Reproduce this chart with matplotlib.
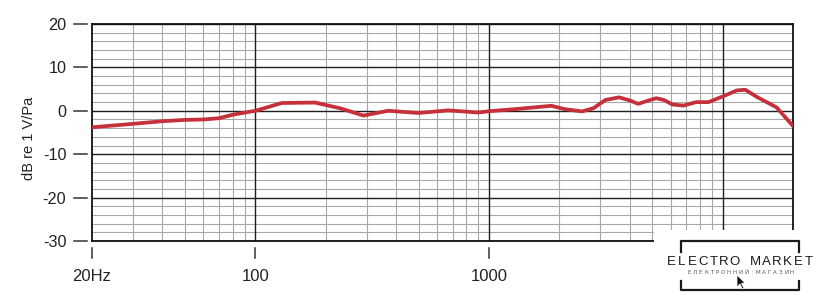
import matplotlib
matplotlib.use("Agg")
import matplotlib.pyplot as plt
from matplotlib.transforms import blended_transform_factory
from matplotlib.patches import Rectangle, Polygon
from matplotlib.lines import Line2D

# ---- data ----
freq_hz = [20, 30, 40, 50, 60, 70, 80, 100, 130, 180, 230, 290, 370, 500, 670,
           900, 1000, 1300, 1850, 2100, 2500, 2800, 3150, 3600, 4000, 4350,
           4900, 5200, 5600, 6100, 6800, 7700, 8700, 10000, 11500, 12500,
           14000, 17000, 20000]
sens_db = [-3.8, -3.0, -2.4, -2.1, -2.0, -1.7, -0.9, 0.0, 1.8, 1.9, 0.6, -1.1,
           0.0, -0.5, 0.1, -0.4, -0.1, 0.4, 1.15, 0.4, -0.15, 0.6, 2.5, 3.1,
           2.4, 1.6, 2.5, 2.9, 2.5, 1.45, 1.2, 2.0, 2.0, 3.3, 4.7, 4.85, 3.2,
           0.8, -3.5]

x_tick_values = [20, 100, 1000]
x_tick_labels = ["20Hz", "100", "1000"]
y_tick_values = [20, 10, 0, -10, -20, -30]
decade_lines = [100, 1000, 10000]
minor_freqs = ([m * 10 for m in range(3, 10)] +
               [m * 100 for m in range(2, 10)] +
               [m * 1000 for m in range(2, 10)])
db_grid = list(range(-30, 21, 2))

W, H = 840, 304
def fp(x, y):
    return (x / W, 1 - y / H)

fig = plt.figure(figsize=(W / 100, H / 100), dpi=100)
fig.patch.set_facecolor("white")
ax = fig.add_axes([92 / W, 1 - 241 / H, 701 / W, 217 / H])
ax.set_xscale("log")
ax.set_xlim(20, 20000)
ax.set_ylim(-30, 20)

# grid
for y in db_grid:
    if y % 10 == 0:
        ax.axhline(y, color="#1e1e1e", lw=1.0, zorder=1)
    else:
        ax.axhline(y, color="#a8a8a8", lw=0.8, zorder=0.5)
for f in minor_freqs:
    ax.axvline(f, color="#a8a8a8", lw=0.8, zorder=0.5)
for f in decade_lines:
    ax.axvline(f, color="#1e1e1e", lw=1.0, zorder=1)

for s in ax.spines.values():
    s.set_linewidth(1.3)
    s.set_color("#111111")

ax.plot(freq_hz, sens_db, color="#c5303a", lw=2.7, zorder=3,
        solid_capstyle="round", solid_joinstyle="round")

ax.set_xticks(x_tick_values)
ax.set_xticklabels(x_tick_labels)
ax.xaxis.set_minor_locator(matplotlib.ticker.NullLocator())
ax.set_yticks(y_tick_values)
ax.set_yticklabels([str(v) for v in y_tick_values])
ax.tick_params(axis="both", length=0)
ax.tick_params(axis="y", pad=18.5, labelsize=11.7, labelcolor="#222222")
ax.tick_params(axis="x", pad=20.5, labelsize=12, labelcolor="#222222")
for lab in ax.get_xticklabels() + ax.get_yticklabels():
    lab.set_fontfamily("Liberation Sans")

# detached tick marks
ty = blended_transform_factory(ax.transAxes, ax.transData)
for v in y_tick_values:
    ax.add_line(Line2D([-18 / 701, -5 / 701], [v, v], transform=ty,
                       color="#333333", lw=1.1, clip_on=False))
tx = blended_transform_factory(ax.transData, ax.transAxes)
for v in x_tick_values:
    ax.add_line(Line2D([v, v], [-7 / 217, -17 / 217], transform=tx,
                       color="#333333", lw=1.1, clip_on=False))

fig.text(*fp(29, 138), "dB re 1 V/Pa", rotation=90, ha="center", va="center",
         fontsize=10.5, color="#222222", family="Liberation Sans")

# watermark box covering bottom-right
fig.patches.append(Rectangle(fp(654, 304), (W - 654) / W, (304 - 229.5) / H,
                             transform=fig.transFigure, facecolor="white",
                             edgecolor="none", zorder=5))
bk = dict(transform=fig.transFigure, color="#1a1a1a", lw=1.6, zorder=6)
for xs, ys in [([681, 681, 799, 799], [252, 241, 241, 252]),
               ([681, 681, 799, 799], [281, 290, 290, 281])]:
    pts = [fp(x, y) for x, y in zip(xs, ys)]
    fig.lines.append(Line2D([p[0] for p in pts], [p[1] for p in pts], **bk))

title = "ELECTRO MARKET"
x0, x1 = 671, 809
for i, ch in enumerate(title):
    x = x0 + (x1 - x0) * i / (len(title) - 1)
    fig.text(*fp(x, 262), ch, ha="center", va="center", fontsize=9.5,
             color="#1a1a1a", family="Liberation Sans", zorder=7)
sub = "ЕЛЕКТРОННИЙ·МАГАЗИН"
x0, x1 = 689, 792
for i, ch in enumerate(sub):
    x = x0 + (x1 - x0) * i / (len(sub) - 1)
    fig.text(*fp(x, 272), ch, ha="center", va="center", fontsize=4,
             color="#555555", family="DejaVu Sans", zorder=7)
arrow = [(737, 275), (737, 287), (740, 284), (742.5, 289), (744, 288.3),
         (741.5, 283.3), (745, 283)]
fig.patches.append(Polygon([fp(x, y) for x, y in arrow], closed=True,
                           transform=fig.transFigure, facecolor="#111111",
                           edgecolor="white", lw=0.5, zorder=8))

fig.savefig("out.png", dpi=100, facecolor="white")
